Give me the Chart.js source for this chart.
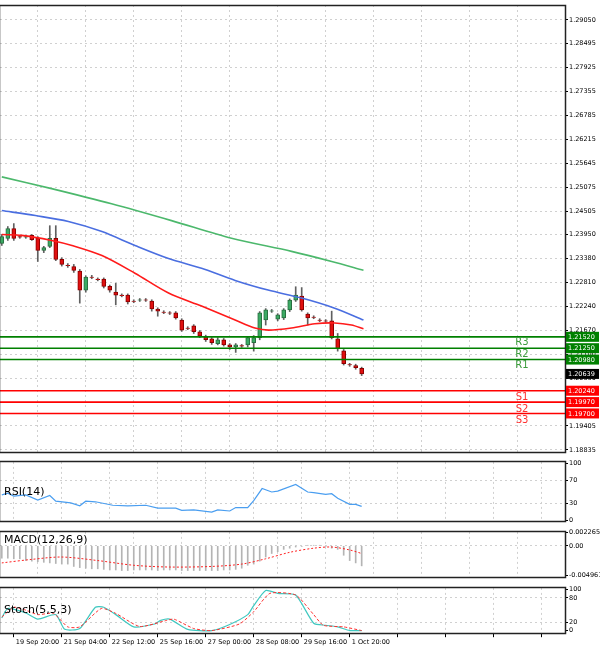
<!DOCTYPE html>
<html><head><meta charset="utf-8">
<script src="https://cdn.jsdelivr.net/npm/chart.js@4"></script>
<style>
html,body{margin:0;padding:0;background:#fff;width:600px;height:653px;overflow:hidden}
.p{position:absolute;left:0;width:600px}
</style></head><body>
<div class="p" style="top:0;height:457px"><canvas id="cMain"></canvas></div>
<div class="p" style="top:457px;height:70px"><canvas id="cRsi"></canvas></div>
<div class="p" style="top:527px;height:56px"><canvas id="cMacd"></canvas></div>
<div class="p" style="top:583px;height:70px"><canvas id="cSto"></canvas></div>
<script>
// ---- data ----
const opens  = [1.2374,1.2386,1.2409,1.2390,1.2389,1.2393,1.2386,1.2357,1.2367,1.2386,1.2336,1.2322,1.2319,1.2308,1.2263,1.2294,1.2289,1.2289,1.2272,1.2258,1.2251,1.2251,1.2237,1.2239,1.2240,1.2237,1.2218,1.2211,1.2209,1.2209,1.2192,1.2173,1.2178,1.2164,1.2152,1.2147,1.2136,1.2145,1.2133,1.2128,1.2131,1.2133,1.2138,1.2150,1.2192,1.2213,1.2194,1.2197,1.2216,1.2239,1.2249,1.2206,1.2199,1.2192,1.2190,1.2190,1.2147,1.2119,1.2086,1.2084,1.2077];
const closes = [1.2390,1.2409,1.2386,1.2389,1.2390,1.2383,1.2357,1.2364,1.2386,1.2336,1.2324,1.2321,1.2310,1.2263,1.2294,1.2293,1.2288,1.2272,1.2263,1.2251,1.2250,1.2235,1.2236,1.2240,1.2239,1.2218,1.2213,1.2210,1.2208,1.2197,1.2168,1.2172,1.2164,1.2154,1.2145,1.2138,1.2145,1.2133,1.2128,1.2133,1.2130,1.2150,1.2150,1.2209,1.2216,1.2214,1.2204,1.2216,1.2239,1.2251,1.2216,1.2197,1.2198,1.2191,1.2189,1.2150,1.2124,1.2088,1.2085,1.2079,1.20639];
const highs  = [1.2395,1.2414,1.2421,1.2393,1.2393,1.2395,1.2390,1.2367,1.2416,1.2416,1.2340,1.2326,1.2324,1.2312,1.2297,1.2298,1.2292,1.2292,1.2275,1.2279,1.2254,1.2254,1.2240,1.2243,1.2243,1.2240,1.2221,1.2214,1.2212,1.2212,1.2195,1.2176,1.2181,1.2167,1.2156,1.2150,1.2150,1.2148,1.2136,1.2136,1.2134,1.2153,1.2155,1.2212,1.2219,1.2217,1.2207,1.2219,1.2242,1.2271,1.2269,1.2209,1.2202,1.2195,1.2193,1.2213,1.2160,1.2122,1.2089,1.2087,1.2080];
const lows   = [1.2369,1.2381,1.2381,1.2386,1.2386,1.2381,1.2331,1.2352,1.2364,1.2333,1.2320,1.2317,1.2305,1.2232,1.2258,1.2290,1.2285,1.2268,1.2258,1.2228,1.2247,1.2230,1.2233,1.2236,1.2236,1.2213,1.2201,1.2207,1.2205,1.2194,1.2165,1.2169,1.2160,1.2150,1.2141,1.2134,1.2133,1.2130,1.2122,1.2115,1.2127,1.2128,1.2118,1.2145,1.2180,1.2210,1.2190,1.2193,1.2212,1.2236,1.2213,1.2180,1.2195,1.2188,1.2186,1.2147,1.2118,1.2085,1.2082,1.2075,1.2060];
const maRed   = [[0,1.2395],[3.3,1.2393],[8.3,1.2381],[11.7,1.2369],[16.7,1.2345],[22.2,1.2303],[27.8,1.2256],[33.3,1.2225],[38.9,1.2192],[42.2,1.2173],[44.5,1.2168],[48.3,1.2173],[52.2,1.2183],[55.5,1.2185],[58.3,1.2180],[60.3,1.2171]];
const maBlue  = [[0,1.2452],[5.6,1.2440],[11.1,1.2426],[16.7,1.2402],[22.2,1.2369],[27.8,1.2338],[33.3,1.2315],[38.9,1.2286],[44.4,1.2263],[50,1.2244],[55.5,1.2220],[60.3,1.2192]];
const maGreen = [[0,1.2532],[8.3,1.2504],[18.3,1.2468],[28.3,1.2428],[38.3,1.2386],[48.3,1.2355],[55,1.2331],[60.3,1.2310]];
const resistLevels = [1.2152,1.2125,1.2098];
const resistNames = ['R3','R2','R1'];
const supportLevels = [1.2024,1.1997,1.1970];
const supportNames = ['S1','S2','S3'];
const lastPrice = 1.20639;
const priceTicks = [1.29050,1.28495,1.27925,1.27355,1.26785,1.26215,1.25645,1.25075,1.24505,1.23950,1.23380,1.22810,1.22240,1.21670,1.21100,1.20530,1.19960,1.19405,1.18835];
const rsi = [[0,45],[1,48],[2,43],[4,45],[6,36],[8,44],[9,34],[11.5,31],[13,26],[14,34],[15.6,33],[18.5,27],[21,26],[24,27],[26,22],[29,22],[30,18],[32,19],[35,15],[36,19],[38,17],[39,23],[41,23],[42,35],[43.4,56],[45,50],[46,51.5],[49,63],[51,50],[52,49],[54,46],[55,47],[56,39],[58,28.5],[59,28.5],[60,25]];
const macdHist = [-0.0021,-0.0021,-0.0022,-0.0022,-0.0025,-0.0026,-0.0027,-0.0028,-0.0029,-0.0030,-0.0031,-0.0031,-0.0035,-0.0037,-0.0038,-0.0039,-0.0039,-0.0040,-0.0041,-0.0041,-0.0042,-0.0042,-0.0041,-0.0041,-0.0041,-0.0041,-0.0042,-0.0041,-0.0041,-0.0041,-0.0042,-0.0042,-0.0042,-0.0042,-0.0042,-0.0042,-0.0042,-0.0041,-0.0041,-0.0040,-0.0038,-0.0033,-0.0031,-0.0026,-0.0019,-0.0013,-0.0010,-0.0006,-0.0004,-0.0002,-0.0001,0.0001,0.0001,0.0001,-0.0001,-0.0004,-0.0006,-0.0016,-0.0025,-0.0029,-0.0034];
const macdSignal = [[0,-0.0029],[5,-0.0023],[10,-0.0019],[16,-0.0025],[22,-0.0033],[28,-0.0036],[35,-0.0035],[40,-0.0031],[44,-0.0022],[48,-0.0011],[52,-0.0004],[55,-0.0002],[58,-0.0007],[60,-0.0013]];
const stochMain = [[0,31],[1,54],[4,43],[6,28],[9,39],[10.5,3],[13,5],[15.6,57],[17,57],[19,39],[22,9],[25.5,16],[26.5,25],[28,28],[31,3],[35,0],[38,15],[41,39],[42,61],[44,98],[46,91],[49,87],[52,18],[54,13],[56,9],[58,0],[60,0]];
const stochSignal = [[0,33],[2,57],[4,50],[6,39],[8.6,42],[11,9],[13,9],[16.6,54],[19,42],[23,10],[27.5,25],[28.7,28],[32,5],[35,0],[39.6,16],[42,46],[44.7,91],[49,87],[52,39],[53.6,13],[57,9],[60,0]];
const timeTickIdx = [2,10,18,26,34,42,50,58,66,74,82,90];
const timeLabels = ['19 Sep 20:00','21 Sep 04:00','22 Sep 12:00','25 Sep 16:00','27 Sep 00:00','28 Sep 08:00','29 Sep 16:00','1 Oct 20:00','','','',''];

// ---- helpers ----
const FONT = 'DejaVu Sans';
const XMIN = -0.3, XMAX = 93.9;
const pts = a => a.map(p => ({x:p[0], y:p[1]}));
function xScale(showLabels){
  return {type:'linear', min:XMIN, max:XMAX, offset:false,
    afterBuildTicks: s => { s.ticks = timeTickIdx.map(v => ({value:v})); },
    grid:{color:'#d0d0d0', tickLength:showLabels?3:0, drawTicks:showLabels, tickColor:'#000'},
    border:{display:false, dash:[2,3]},
    ticks:{display:showLabels, autoSkip:false, maxRotation:0, align:'start', padding:1,
      color:'#000', font:{family:FONT,size:6.5},
      callback:(v)=> { const l = timeLabels[timeTickIdx.indexOf(v)]; return l ? ' '+l : ''; }}};
}
function yScale(min,max,ticksArr,fmt,gridVals){
  return {type:'linear', position:'right', min, max,
    afterBuildTicks: s => { s.ticks = ticksArr.map(v => ({value:v})); },
    afterFit: s => { s.width = 35; },
    grid:{color: c => (gridVals && !gridVals.includes(c.tick.value)) ? 'rgba(0,0,0,0)' : '#d0d0d0', tickLength:3, drawTicks:true, tickColor:'#000'},
    border:{display:false, dash:[2,3]},
    ticks:{autoSkip:false, padding:1, color:'#000', font:{family:FONT,size:6.5}, callback:fmt}};
}
const frame = {id:'frame', afterDraw(ch){
  const a = ch.chartArea, c = ch.ctx; c.save();
  c.strokeStyle='#222'; c.lineWidth=1.5; c.setLineDash([]);
  c.strokeRect(Math.floor(a.left)-0.5, Math.floor(a.top)+0.5, Math.round(a.right-a.left)+1, Math.round(a.bottom-a.top));
  const t = ch.options.plugins.frame && ch.options.plugins.frame.title;
  if (t){ c.fillStyle='#000'; c.font='11px "'+FONT+'"'; c.textBaseline='top'; c.fillText(t.text, 4, a.top + t.dy); }
  c.restore();
}};
Chart.defaults.animation = false;
Chart.defaults.responsive = true;
Chart.defaults.maintainAspectRatio = false;
Chart.defaults.plugins.legend.display = false;
Chart.defaults.plugins.tooltip.enabled = false;
Chart.defaults.elements.point.radius = 0;

// ---- main ----
const idx = opens.map((_,i)=>i);
const bodies = idx.map(i => ({x:i, y:[Math.min(opens[i],closes[i]), Math.max(opens[i],closes[i])]}));
const wicks = idx.map(i => ({x:i, y:[lows[i], highs[i]]}));
const up = idx.map(i => closes[i] >= opens[i]);
const levelLine = (v,col) => ({type:'line', data:[{x:XMIN,y:v},{x:XMAX,y:v}], borderColor:col, borderWidth:1.6, order:0});

const levelBoxes = {id:'levelBoxes', afterDraw(ch){
  const c = ch.ctx, ys = ch.scales.y, a = ch.chartArea; c.save();
  c.font = '6.5px "'+FONT+'"'; c.textBaseline='middle';
  const box = (v, bg) => { const y = ys.getPixelForValue(v); c.fillStyle=bg; c.fillRect(a.right+1, y-5, 33, 10); c.fillStyle='#fff'; c.textAlign='left'; c.fillText(v.toFixed(5), a.right+3, y+0.5); };
  resistLevels.forEach(v => box(v, '#008000'));
  supportLevels.forEach(v => box(v, '#ff0000'));
  box(lastPrice, '#000');
  c.font = '10px "'+FONT+'"'; c.textAlign='center'; c.textBaseline='top';
  resistLevels.forEach((v,i) => { c.fillStyle='#3c9c3c'; c.fillText(resistNames[i], 522, ys.getPixelForValue(v)+1); });
  supportLevels.forEach((v,i) => { c.fillStyle='#ff3030'; c.fillText(supportNames[i], 522, ys.getPixelForValue(v)+2); });
  c.restore();
}};

new Chart(document.getElementById('cMain'), {
  type:'bar',
  data:{datasets:[
    ...resistLevels.map(v => levelLine(v,'#008000')),
    ...supportLevels.map(v => levelLine(v,'#ff0000')),
    {type:'line', data:pts(maGreen), borderColor:'#4cb86c', borderWidth:1.6, tension:0.3, order:1},
    {type:'line', data:pts(maBlue), borderColor:'#4a6ee0', borderWidth:1.6, tension:0.3, order:1},
    {type:'line', data:pts(maRed), borderColor:'#ff1a1a', borderWidth:1.6, tension:0.3, order:1},
    {type:'bar', data:wicks, grouped:false, barThickness:1, backgroundColor:'#606060', order:3},
    {type:'bar', data:bodies, grouped:false, barThickness:4, borderSkipped:false, borderWidth:1,
      backgroundColor: up.map(u => u ? '#3caa64' : '#e01010'), borderColor: up.map(u => u ? '#2a6e40' : '#8a0000'), order:2}
  ]},
  options:{layout:{padding:{top:5,bottom:1}},
    scales:{x:xScale(false), y:yScale(1.18782,1.29402,priceTicks,v=>v.toFixed(5))}},
  plugins:[frame, levelBoxes]
});

// ---- RSI ----
new Chart(document.getElementById('cRsi'), {
  type:'line',
  data:{datasets:[{data:pts(rsi), borderColor:'#4a9ef0', borderWidth:1.2}]},
  options:{layout:{padding:{top:1,bottom:1}},
    plugins:{frame:{title:{text:'RSI(14)', dy:25}}},
    scales:{x:xScale(false), y:yScale(-2.3,102.3,[100,70,30,0],v=>String(v),[70,30])}},
  plugins:[frame]
});

// ---- MACD ----
new Chart(document.getElementById('cMacd'), {
  type:'bar',
  data:{datasets:[
    {type:'line', data:pts(macdSignal), borderColor:'#ff2020', borderWidth:1, borderDash:[2,2], tension:0.3, order:0},
    {type:'bar', data:macdHist.map((v,i)=>({x:i,y:v})), barThickness:1, backgroundColor:'#b4b4b4', order:1}
  ]},
  options:{layout:{padding:{top:2,bottom:1}},
    plugins:{frame:{title:{text:'MACD(12,26,9)', dy:3}}},
    scales:{x:xScale(false), y:yScale(-0.00548,0.00237,[0.002265,0,-0.004961],v=> v===0?'0.00':String(v),[0])}},
  plugins:[frame]
});

// ---- Stoch ----
new Chart(document.getElementById('cSto'), {
  type:'line',
  data:{datasets:[
    {data:pts(stochSignal), borderColor:'#ff3030', borderWidth:1, borderDash:[3,2], tension:0.2},
    {data:pts(stochMain), borderColor:'#40c8c0', borderWidth:1.2, tension:0.2}
  ]},
  options:{layout:{padding:{top:1,bottom:6}},
    plugins:{frame:{title:{text:'Stoch(5,5,3)', dy:17}}},
    scales:{x:xScale(true), y:yScale(-8.9,104.4,[100,80,20,0],v=>String(v),[80,20])}},
  plugins:[frame]
});
</script></body></html>
